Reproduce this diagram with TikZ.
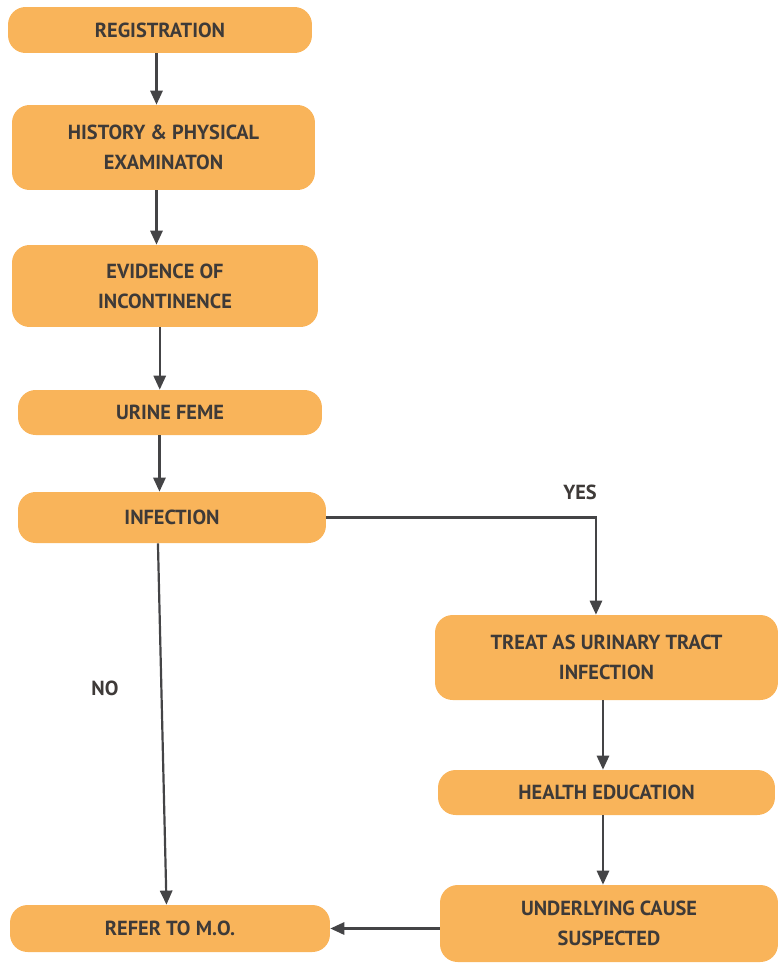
\documentclass[tikz,border=0pt]{standalone}
\usepackage{fontspec}
\setmainfont{PT Sans}
\usetikzlibrary{positioning, arrows.meta, calc}

\definecolor{boxorange}{RGB}{249,180,90}
\definecolor{textgray}{RGB}{62,58,56}
\definecolor{linegray}{RGB}{68,68,70}

\tikzset{
    stage/.style={fill=boxorange, rounded corners=10pt, text=textgray, align=center,
        font=\bfseries\fontsize{11.6}{17}\selectfont, inner sep=0pt},
    flow/.style={draw=linegray, line width=1.25pt, -{Triangle[width=7pt, length=8pt]}},
    tag/.style={text=textgray, font=\bfseries\fontsize{11.6}{13}\selectfont}
}

\begin{document}
\begin{tikzpicture}[x=0.02cm, y=-0.02cm]
    \useasboundingbox (0,0) rectangle (782,967);
    % left column
    \node[stage, minimum width=6.08cm, minimum height=0.92cm] (reg) at (160,30) {REGISTRATION};
    \node[stage, minimum width=6.06cm, minimum height=1.70cm] (hist) at (163.5,147.5) {HISTORY \& PHYSICAL\\EXAMINATON};
    \node[stage, minimum width=6.12cm, minimum height=1.64cm] (evid) at (165,286) {EVIDENCE OF\\INCONTINENCE};
    \node[stage, minimum width=6.08cm, minimum height=0.90cm] (urine) at (170,412.5) {URINE FEME};
    \node[stage, minimum width=6.16cm, minimum height=1.02cm] (infec) at (172,517.5) {INFECTION};
    \node[stage, minimum width=6.40cm, minimum height=0.94cm] (refer) at (170,928.5) {REFER TO M.O.};
    % right column
    \node[stage, minimum width=6.86cm, minimum height=1.70cm] (treat) at (606.5,657.5) {TREAT AS URINARY TRACT\\INFECTION};
    \node[stage, minimum width=6.74cm, minimum height=0.90cm] (health) at (606.5,792.5) {HEALTH EDUCATION};
    \node[stage, minimum width=6.76cm, minimum height=1.54cm] (under) at (609,923.5) {UNDERLYING CAUSE\\SUSPECTED};

    \node[tag] (yes) at (580,492) {YES};
    \node[tag] (no) at (105,688) {NO};

    \draw[flow] ([xshift=-2pt]reg.south) -- ([xshift=-2pt]reg.south |- hist.north);
    \draw[flow] ([xshift=-4pt]hist.south) -- ([xshift=-4pt]hist.south |- evid.north);
    \draw[flow] ([xshift=-3pt]evid.south) -- ([xshift=-3pt]evid.south |- urine.north);
    \draw[flow] ([xshift=-6pt]urine.south) -- ([xshift=-6pt]urine.south |- infec.north);
    \draw[flow] (infec.east) -| ([xshift=-6pt]treat.north);
    \draw[flow] ([xshift=-8pt]infec.south) -- ([xshift=-2pt]refer.north);
    \draw[flow] ([xshift=-2pt]treat.south) -- ([xshift=-2pt]treat.south |- health.north);
    \draw[flow] ([xshift=-2pt]health.south) -- ([xshift=-2pt]health.south |- under.north);
    \draw[flow] (under.west |- refer) -- (refer.east);
\end{tikzpicture}
\end{document}
